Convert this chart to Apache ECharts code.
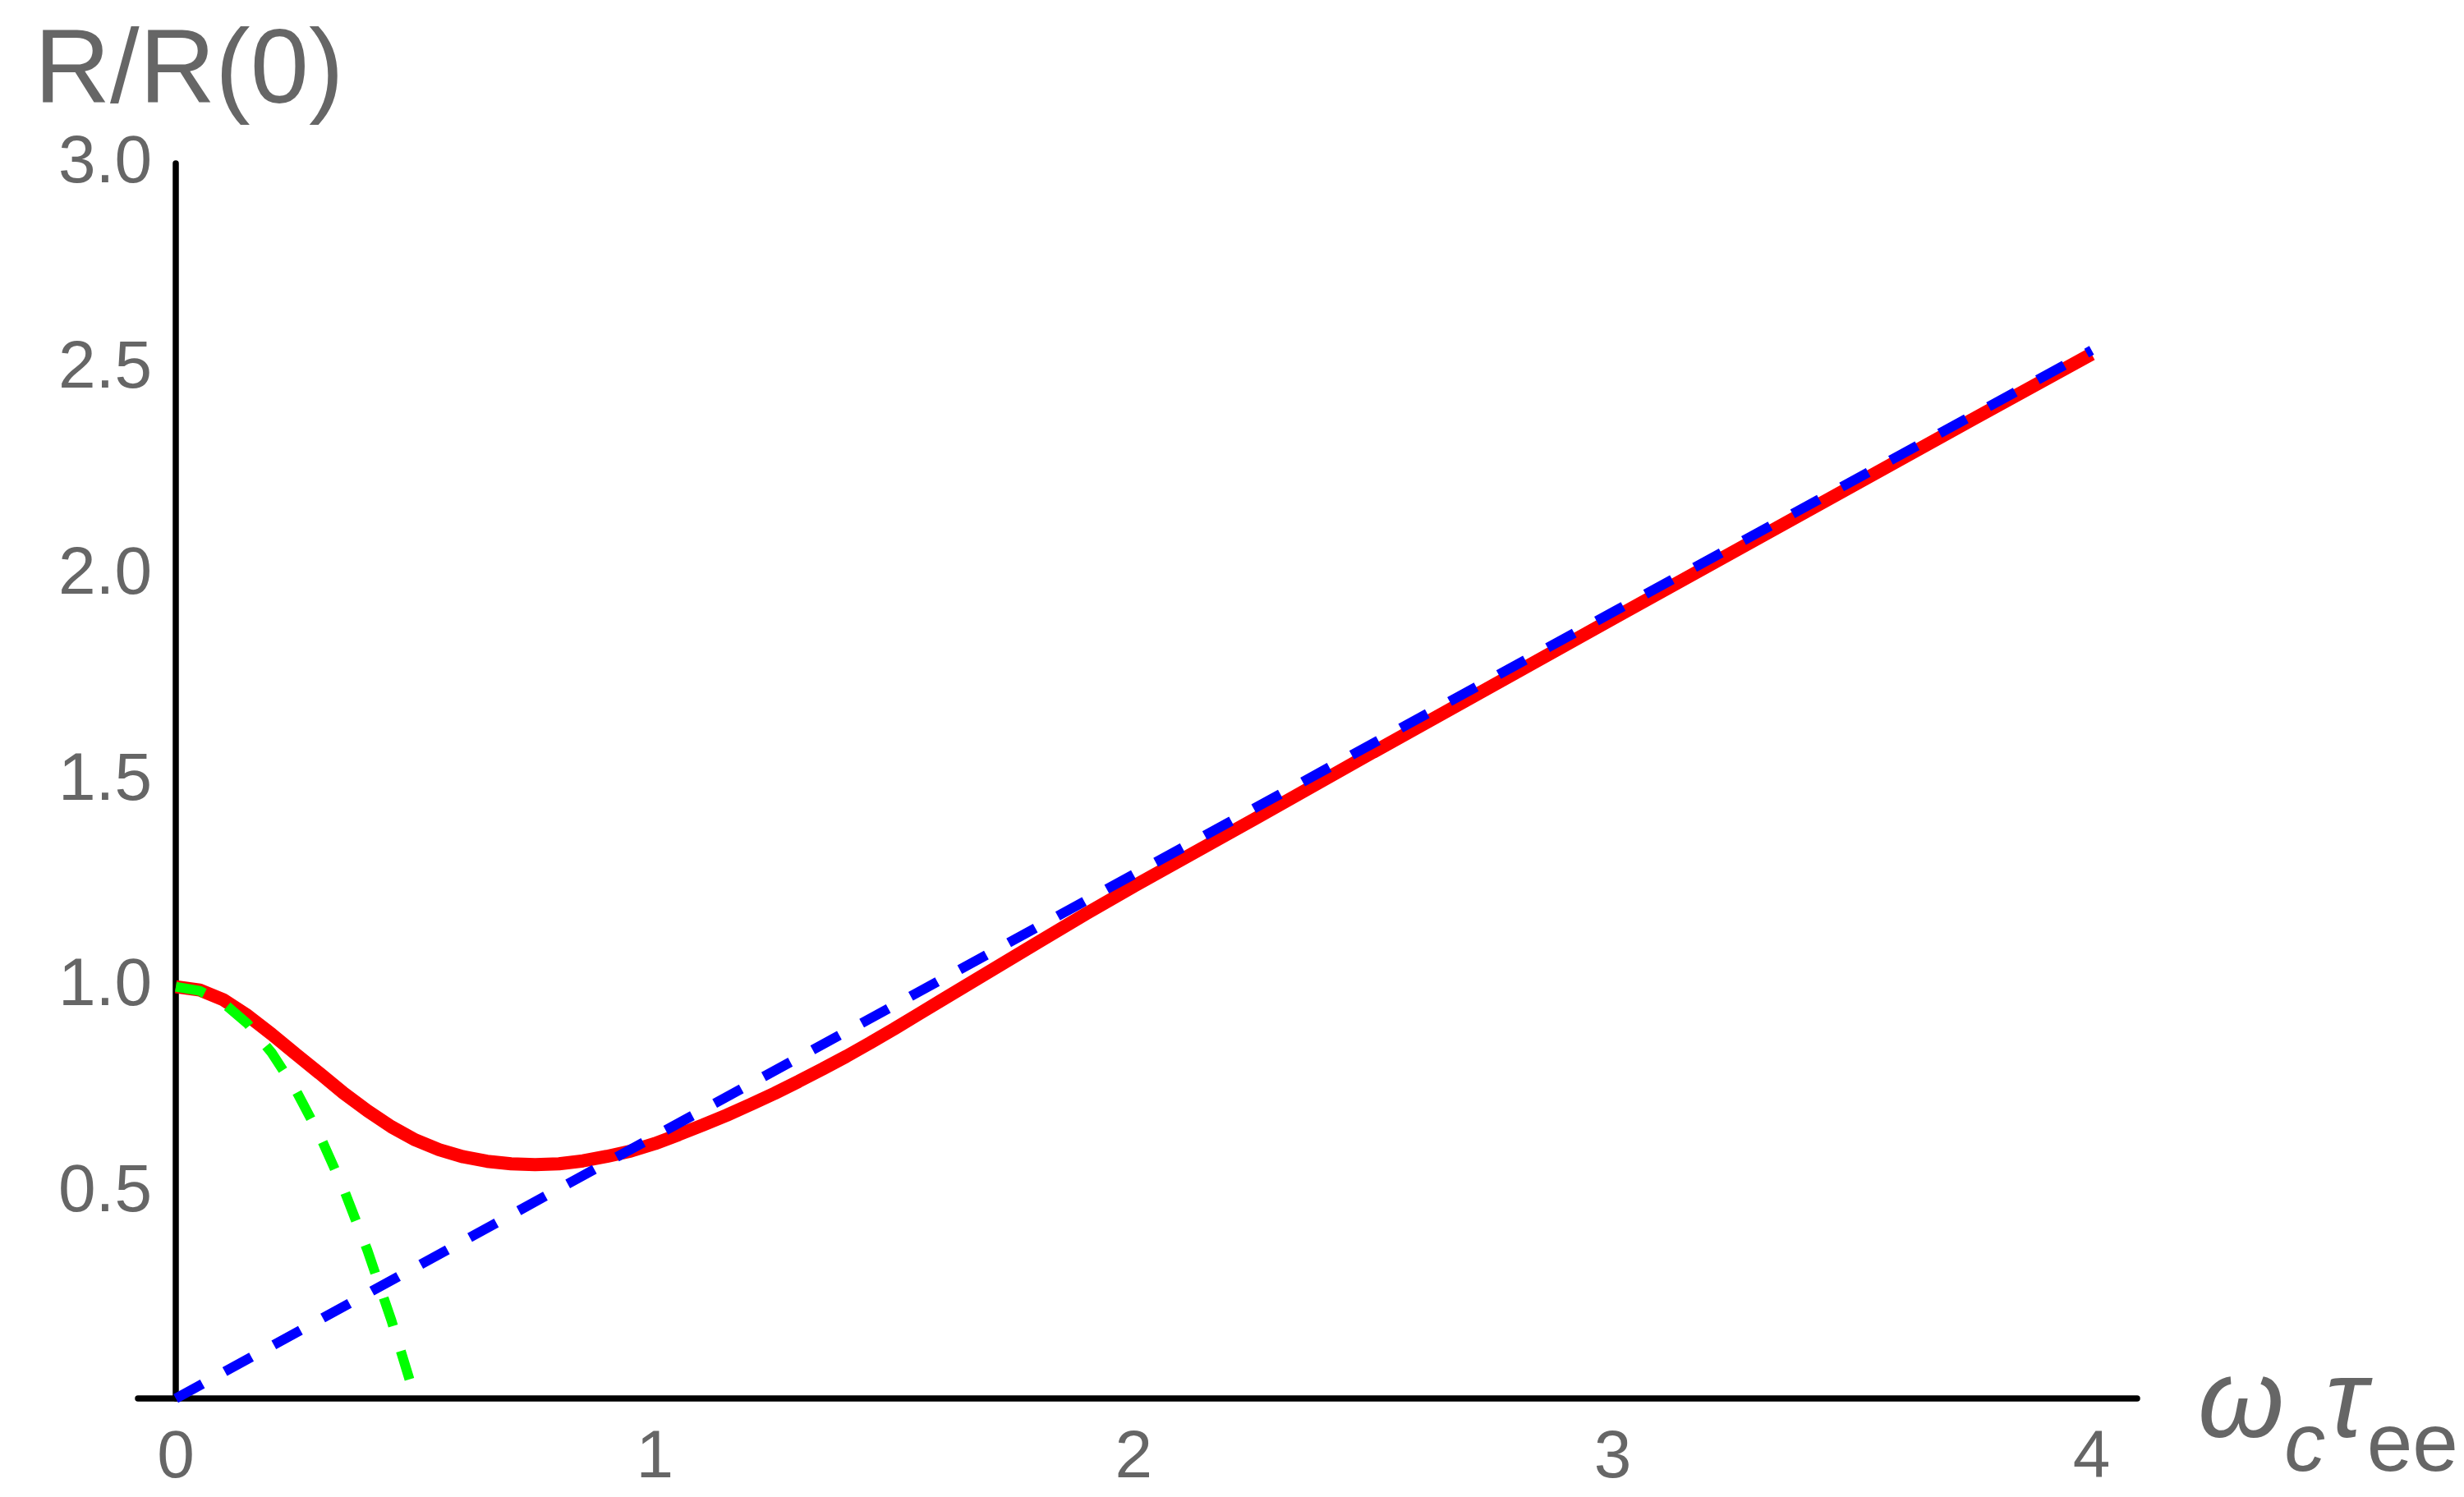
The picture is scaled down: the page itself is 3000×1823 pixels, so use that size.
<!DOCTYPE html>
<html>
<head>
<meta charset="utf-8">
<title>R/R(0)</title>
<script src="https://cdn.jsdelivr.net/npm/echarts@6/dist/echarts.min.js"></script>
<style>
  html, body { margin: 0; padding: 0; background: #fff; }
  #chart { width: 3000px; height: 1823px; }
</style>
</head>
<body>
<div id="chart"></div>
<script>
  // full curve R/R(0)
  var redX = [0, 0.05, 0.1, 0.15, 0.2, 0.25, 0.3, 0.35, 0.4, 0.45, 0.5, 0.55, 0.6, 0.65, 0.7, 0.75, 0.8, 0.85, 0.9, 0.95,
              1.0, 1.05, 1.1, 1.15, 1.2, 1.25, 1.3, 1.35, 1.4, 1.45, 1.5, 1.55, 1.6, 1.65, 1.7, 1.75, 1.8, 1.9,
              2.0, 2.25, 2.5, 2.75, 3.0, 3.25, 3.5, 3.75, 4.0]
  var redY = [1.000, 0.992, 0.968, 0.930, 0.885, 0.837, 0.790, 0.742, 0.699, 0.660, 0.628, 0.604, 0.587, 0.576, 0.570, 0.568, 0.570, 0.577, 0.588, 0.601,
              0.619, 0.641, 0.664, 0.688, 0.714, 0.741, 0.770, 0.800, 0.831, 0.864, 0.898, 0.933, 0.968, 1.003, 1.038, 1.073, 1.108, 1.177,
              1.244, 1.406, 1.570, 1.732, 1.894, 2.055, 2.216, 2.377, 2.537]

  // small field asymptote (green dashed)
  var greenX = [0, 0.05, 0.1, 0.15, 0.2, 0.25, 0.3, 0.35, 0.4, 0.45, 0.5]
  var greenY = [1.0, 0.99, 0.96, 0.91, 0.84, 0.75, 0.64, 0.51, 0.36, 0.19, 0.0]

  // large field asymptote (blue dashed)
  var blueX = [0, 1, 2, 3, 4]
  var blueY = [0, 0.637, 1.273, 1.910, 2.546]

  var xTicks = [0, 1, 2, 3, 4]
  var yTicks = [0.5, 1.0, 1.5, 2.0, 2.5, 3.0]

  var font = 'Liberation Sans, Arial, sans-serif'
  var grey = '#666666'

  function zip(xs, ys) {
    var out = []
    for (var i = 0; i < xs.length; i++) {
      out.push([xs[i], ys[i]])
    }
    return out
  }

  var chart = echarts.init(document.getElementById('chart'))
  chart.setOption({
    animation: false,
    backgroundColor: '#fff',
    grid: {
      left: 168,
      right: 398,
      top: 199,
      bottom: 120,
      outerBoundsMode: 'none',
    },
    xAxis: {
      type: 'value',
      min: -0.079,
      max: 4.095,
      splitLine: { show: false },
      axisTick: { show: false },
      axisLine: { lineStyle: { color: '#000', width: 7.5 } },
      axisLabel: {
        customValues: xTicks,
        color: grey,
        fontSize: 82,
        fontFamily: font,
        margin: 32,
      },
      name: '{w|ω}{s|c}{w|τ}{e|ee}',
      nameLocation: 'end',
      nameGap: 74,
      nameTextStyle: {
        padding: [86, 0, 0, 0],
        rich: {
          w: { fontSize: 135, fontStyle: 'italic', fontFamily: font, color: grey, lineHeight: 135, padding: [0, 0, 34, 0], verticalAlign: 'bottom' },
          s: { fontSize: 100, fontStyle: 'italic', fontFamily: font, color: grey, lineHeight: 100, verticalAlign: 'bottom' },
          e: { fontSize: 100, fontFamily: font, color: grey, lineHeight: 100, verticalAlign: 'bottom' },
        },
      },
    },
    yAxis: {
      type: 'value',
      min: 0,
      max: 3,
      splitLine: { show: false },
      axisTick: { show: false },
      axisLine: { onZero: true, lineStyle: { color: '#000', width: 7.5 } },
      axisLabel: {
        customValues: yTicks,
        color: grey,
        fontSize: 82,
        fontFamily: font,
        margin: -17,
        formatter: function (v) { return v.toFixed(1) },
      },
      name: 'R/R(0)',
      nameLocation: 'end',
      nameGap: 45,
      nameTextStyle: {
        color: grey,
        fontSize: 128,
        fontFamily: font,
        padding: [0, 0, 0, 32],
      },
    },
    series: [
      {
        type: 'line',
        data: zip(redX, redY),
        showSymbol: false,
        symbol: 'none',
        lineStyle: { color: '#ff0000', width: 16 },
        z: 2,
      },
      {
        type: 'line',
        data: zip(greenX, greenY),
        showSymbol: false,
        symbol: 'none',
        lineStyle: { color: '#00ff00', width: 12, type: [36, 32] },
        z: 3,
      },
      {
        type: 'line',
        data: zip(blueX, blueY),
        showSymbol: false,
        symbol: 'none',
        lineStyle: { color: '#0000ff', width: 12, type: [37, 31] },
        z: 4,
      },
    ],
  })
</script>
</body>
</html>
